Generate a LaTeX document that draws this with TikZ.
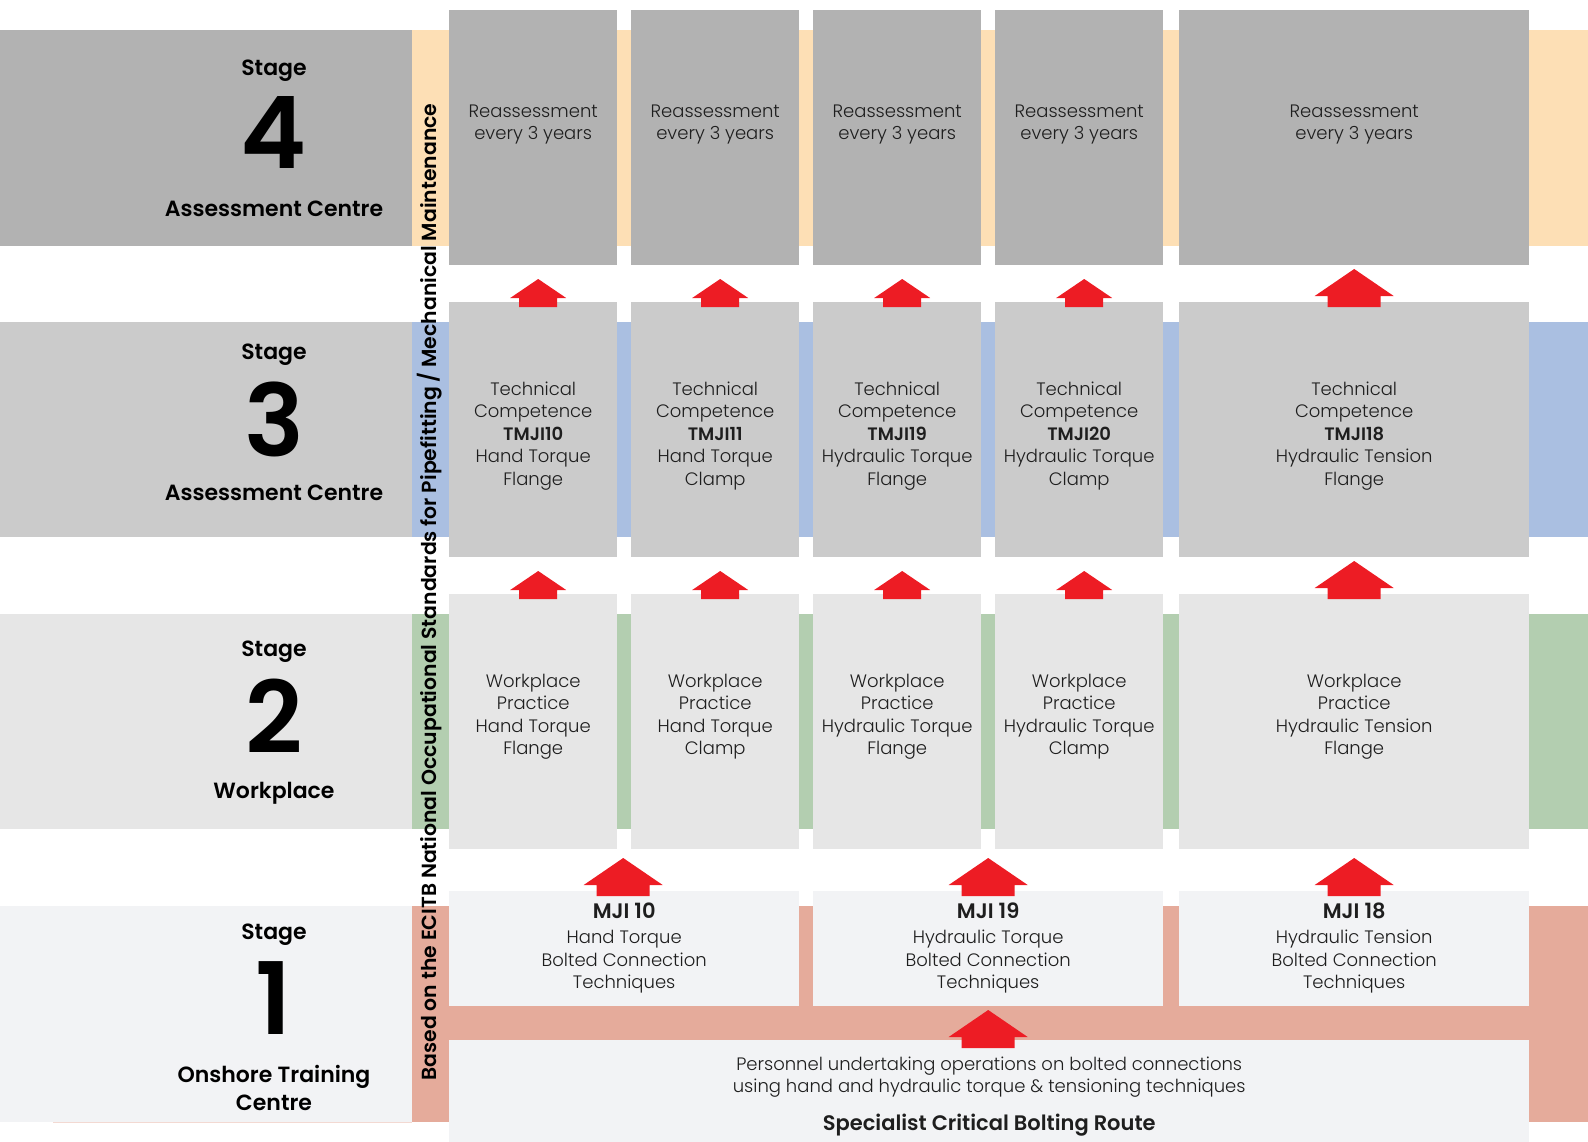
\documentclass[tikz,border=0pt]{standalone}
\usepackage{fontspec}
\setmainfont{Poppins}[UprightFont={* Light},BoldFont={* SemiBold}]
\usetikzlibrary{positioning}

\definecolor{grayfour}{HTML}{B2B2B2}
\definecolor{graythree}{HTML}{CBCBCB}
\definecolor{graytwo}{HTML}{E6E6E6}
\definecolor{grayone}{HTML}{F2F3F5}
\definecolor{peach}{HTML}{FDDFB5}
\definecolor{bandblue}{HTML}{AABFE1}
\definecolor{bandgreen}{HTML}{B3CEB0}
\definecolor{salmon}{HTML}{E5AB9B}
\definecolor{arrowred}{HTML}{ED1C24}
\definecolor{textgray}{HTML}{1E1E1E}

\tikzset{
    box/.style={rectangle, inner sep=0pt, anchor=north west},
    colbox/.style={box, minimum width=168pt, minimum height=255pt},
    widebox/.style={box, minimum width=350pt, minimum height=255pt},
    mjibox/.style={box, fill=grayone, minimum width=350pt, minimum height=115pt},
    boxtext/.style={align=center, text=textgray, font=\fontsize{18}{22.5}\selectfont},
    stagetext/.style={align=center, font=\fontsize{22}{28}\selectfont\bfseries},
    stagenum/.style={inner sep=0pt, text height=72pt, text depth=0pt, font=\fontsize{100}{100}\selectfont\bfseries},
    smallup/.pic={
        \fill[arrowred] (-19,0) -- (-19,-9) -- (-28,-9) -- (0,-28) -- (28,-9) -- (19,-9) -- (19,0) -- cycle;
    },
    bigup/.pic={
        \fill[arrowred] (-26.5,0) -- (-26.5,-11) -- (-39.5,-11) -- (0,-38) -- (39.5,-11) -- (26.5,-11) -- (26.5,0) -- cycle;
    }
}

\begin{document}
\begin{tikzpicture}[x=1pt, y=-1pt]
    \useasboundingbox (0,0) rectangle (1588,1142);

    % Bands
    \fill[grayfour] (0,30) rectangle (412,246);
    \fill[peach] (412,30) rectangle (1588,246);
    \fill[graythree] (0,322) rectangle (412,537);
    \fill[bandblue] (412,322) rectangle (1588,537);
    \fill[graytwo] (0,614) rectangle (412,829);
    \fill[bandgreen] (412,614) rectangle (1588,829);
    \fill[grayone] (0,906) rectangle (412,1122);
    \fill[salmon] (412,906) rectangle (1588,1122);
    \draw[salmon!45, line width=1pt] (53,1122) -- (412,1122);

    % Stage labels
    \node[stagetext] (stage4) at (274,71) {Stage};
    \node[stagenum] (num4) at (274,133) {4};
    \node[stagetext] (centre4) at (274,209) {Assessment Centre};
    \node[stagetext] (stage3) at (274,355) {Stage};
    \node[stagenum] (num3) at (274,420) {3};
    \node[stagetext] (centre3) at (274,493) {Assessment Centre};
    \node[stagetext] (stage2) at (274,652) {Stage};
    \node[stagenum] (num2) at (274,717) {2};
    \node[stagetext] (centre2) at (274,793) {Workplace};
    \node[stagetext] (stage1) at (274,935) {Stage};
    \node[stagenum] (num1) at (274,998) {1};
    \node[stagetext] (centre1) at (274,1088) {Onshore Training\\Centre};

    \node[rotate=90, font=\fontsize{20.4}{22}\selectfont\bfseries] (ecitb) at (430,592)
        {Based on the ECITB National Occupational Standards for Pipefitting / Mechanical Maintenance};

    % Stage 4 blocks
    \node[colbox, fill=grayfour] (s4c1) at (449,10) {};
    \node[colbox, fill=grayfour] (s4c2) at (631,10) {};
    \node[colbox, fill=grayfour] (s4c3) at (813,10) {};
    \node[colbox, fill=grayfour] (s4c4) at (995,10) {};
    \node[widebox, fill=grayfour] (s4c5) at (1179,10) {};
    \node[boxtext] at ([yshift=13pt]s4c1.center) {Reassessment\\every 3 years};
    \node[boxtext] at ([yshift=13pt]s4c2.center) {Reassessment\\every 3 years};
    \node[boxtext] at ([yshift=13pt]s4c3.center) {Reassessment\\every 3 years};
    \node[boxtext] at ([yshift=13pt]s4c4.center) {Reassessment\\every 3 years};
    \node[boxtext] at ([yshift=13pt]s4c5.center) {Reassessment\\every 3 years};

    % Stage 3 blocks
    \node[colbox, fill=graythree] (s3c1) at (449,302) {};
    \node[colbox, fill=graythree] (s3c2) at (631,302) {};
    \node[colbox, fill=graythree] (s3c3) at (813,302) {};
    \node[colbox, fill=graythree] (s3c4) at (995,302) {};
    \node[widebox, fill=graythree] (s3c5) at (1179,302) {};
    \node[boxtext] at ([yshift=-6pt]s3c1.center) {Technical\\Competence\\\textbf{TMJI10}\\Hand Torque\\Flange};
    \node[boxtext] at ([yshift=-6pt]s3c2.center) {Technical\\Competence\\\textbf{TMJI11}\\Hand Torque\\Clamp};
    \node[boxtext] at ([yshift=-6pt]s3c3.center) {Technical\\Competence\\\textbf{TMJI19}\\Hydraulic Torque\\Flange};
    \node[boxtext] at ([yshift=-6pt]s3c4.center) {Technical\\Competence\\\textbf{TMJI20}\\Hydraulic Torque\\Clamp};
    \node[boxtext] at ([yshift=-6pt]s3c5.center) {Technical\\Competence\\\textbf{TMJI18}\\Hydraulic Tension\\Flange};

    % Stage 2 blocks
    \node[colbox, fill=graytwo] (s2c1) at (449,594) {};
    \node[colbox, fill=graytwo] (s2c2) at (631,594) {};
    \node[colbox, fill=graytwo] (s2c3) at (813,594) {};
    \node[colbox, fill=graytwo] (s2c4) at (995,594) {};
    \node[widebox, fill=graytwo] (s2c5) at (1179,594) {};
    \node[boxtext] at ([yshift=5pt]s2c1.center) {Workplace\\Practice\\Hand Torque\\Flange};
    \node[boxtext] at ([yshift=5pt]s2c2.center) {Workplace\\Practice\\Hand Torque\\Clamp};
    \node[boxtext] at ([yshift=5pt]s2c3.center) {Workplace\\Practice\\Hydraulic Torque\\Flange};
    \node[boxtext] at ([yshift=5pt]s2c4.center) {Workplace\\Practice\\Hydraulic Torque\\Clamp};
    \node[boxtext] at ([yshift=5pt]s2c5.center) {Workplace\\Practice\\Hydraulic Tension\\Flange};

    % Stage 1 blocks
    \node[mjibox] (s1a) at (449,891) {};
    \node[mjibox] (s1b) at (813,891) {};
    \node[mjibox] (s1c) at (1179,891) {};
    \node[boxtext] at ([yshift=0.5pt]s1a.center) {{\fontsize{21}{26}\selectfont\textbf{MJI 10}}\\[3pt]Hand Torque\\Bolted Connection\\Techniques};
    \node[boxtext] at ([yshift=0.5pt]s1b.center) {{\fontsize{21}{26}\selectfont\textbf{MJI 19}}\\[3pt]Hydraulic Torque\\Bolted Connection\\Techniques};
    \node[boxtext] at ([yshift=0.5pt]s1c.center) {{\fontsize{21}{26}\selectfont\textbf{MJI 18}}\\[3pt]Hydraulic Tension\\Bolted Connection\\Techniques};
    \node[box, fill=grayone, minimum width=1080pt, minimum height=102pt] (route) at (449,1040) {};
    \node[boxtext] at ([yshift=-5pt]route.center) {Personnel undertaking operations on bolted connections\\using hand and hydraulic torque \& tensioning techniques\\[15pt]{\fontsize{21}{24}\selectfont\textbf{Specialist Critical Bolting Route}}};

    % Arrows
    \pic at ([xshift=5pt, yshift=-5pt]s3c1.north) {smallup};
    \pic at ([xshift=5pt, yshift=-5pt]s3c2.north) {smallup};
    \pic at ([xshift=5pt, yshift=-5pt]s3c3.north) {smallup};
    \pic at ([xshift=5pt, yshift=-5pt]s3c4.north) {smallup};
    \pic at ([yshift=-5pt]s3c5.north) {bigup};
    \pic at ([xshift=5pt, yshift=-5pt]s2c1.north) {smallup};
    \pic at ([xshift=5pt, yshift=-5pt]s2c2.north) {smallup};
    \pic at ([xshift=5pt, yshift=-5pt]s2c3.north) {smallup};
    \pic at ([xshift=5pt, yshift=-5pt]s2c4.north) {smallup};
    \pic at ([yshift=-5pt]s2c5.north) {bigup};
    \pic at ([xshift=-1pt, yshift=-5pt]s1a.north) {bigup};
    \pic at ([yshift=-5pt]s1b.north) {bigup};
    \pic at ([yshift=-5pt]s1c.north) {bigup};
    \pic at ([xshift=-1pt, yshift=-8pt]route.north) {bigup};
\end{tikzpicture}
\end{document}
